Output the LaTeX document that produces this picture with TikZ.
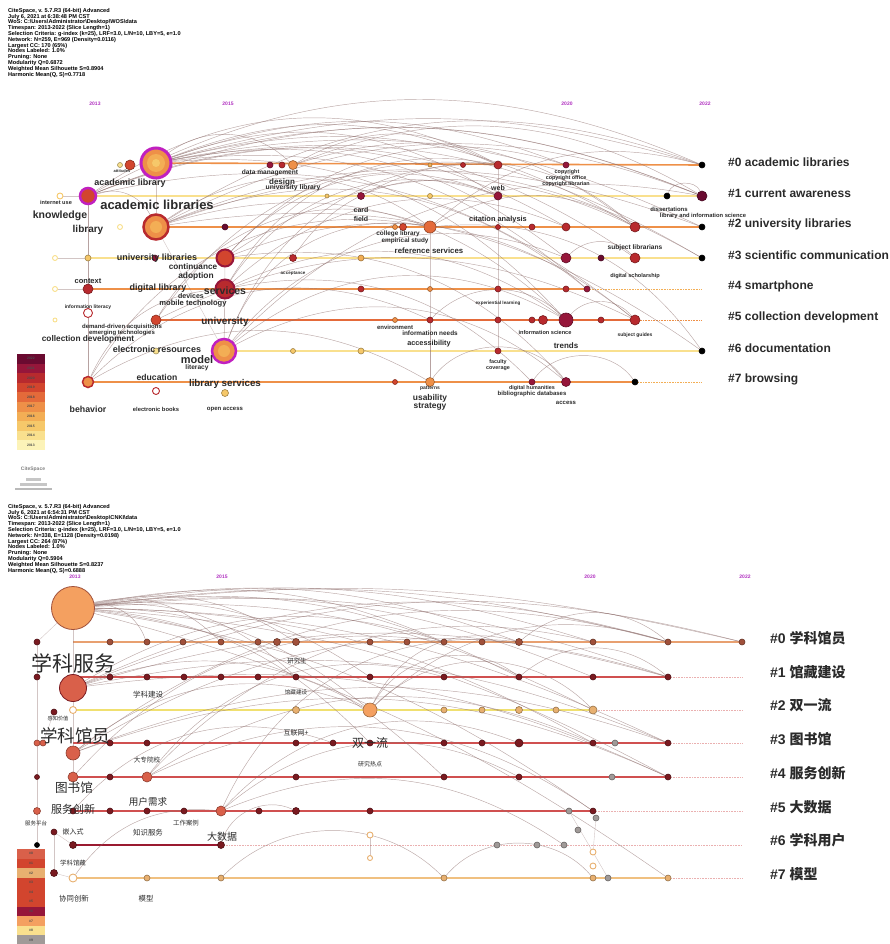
\documentclass[tikz,border=0pt]{standalone}
\usepackage{fontspec}
\setsansfont{Liberation Sans}
\newfontfamily\cjk{Noto Sans CJK SC}
\usetikzlibrary{positioning}

\definecolor{c13}{HTML}{FCF3B8}
\definecolor{c14}{HTML}{F9E08E}
\definecolor{c15}{HTML}{F6C86A}
\definecolor{c16}{HTML}{F3AE55}
\definecolor{c17}{HTML}{EE9048}
\definecolor{c18}{HTML}{E46A3A}
\definecolor{c19}{HTML}{D2452E}
\definecolor{c20}{HTML}{B82A2E}
\definecolor{c21}{HTML}{96163A}
\definecolor{c22}{HTML}{6A0A30}
\definecolor{mag}{HTML}{C020C0}
\definecolor{yr}{HTML}{B030C0}
\definecolor{link}{HTML}{8E6E6C}
\definecolor{txt}{HTML}{2A2A2A}
\definecolor{dk}{HTML}{7A1A20}
\definecolor{br}{HTML}{A0503A}
\definecolor{tn}{HTML}{E8B070}
\definecolor{og}{HTML}{F4A060}
\definecolor{gy}{HTML}{A09A98}
\definecolor{rd}{HTML}{D9604A}
\definecolor{k0}{HTML}{E8A070}
\definecolor{k1}{HTML}{D05050}
\definecolor{k2}{HTML}{F0E070}
\definecolor{k6}{HTML}{9A1A30}
\definecolor{k7}{HTML}{F0C080}

\pgfdeclarelayer{bg}
\pgfsetlayers{bg,main}

\begin{document}
\begin{tikzpicture}[x=1pt,y=-1pt,
  kw/.style={circle,inner sep=0pt,fill=#1,draw=#1!65!black,line width=0.6pt},
  hk/.style={circle,inner sep=0pt,fill=white,draw=#1,line width=0.9pt},
  cit/.style={draw=link,line width=0.45pt,opacity=0.6},
  lk/.style={draw=link,line width=0.4pt,opacity=0.4},
  tl/.style={draw=#1,line width=1.6pt},
  dl/.style={draw=#1,densely dotted,line width=0.6pt},
  lb/.style={font=\sffamily\bfseries\fontsize{#1}{#1}\selectfont,text=txt,inner sep=0pt},
  cl/.style={font=\cjk\fontsize{#1}{#1}\selectfont,text=txt,inner sep=0pt},
  cn/.style={font=\sffamily\bfseries\fontsize{12}{14}\selectfont,text=txt,anchor=west,inner sep=0pt},
  cc/.style={font=\sffamily\bfseries\fontsize{14}{16}\selectfont,text=txt,anchor=west,inner sep=0pt},
  yl/.style={font=\sffamily\bfseries\fontsize{5}{5}\selectfont,text=yr,inner sep=0pt},
  hd/.style={font=\sffamily\bfseries\fontsize{5.6}{5.8}\selectfont,align=left,anchor=north west,inner sep=0pt}]
\useasboundingbox (0,0) rectangle (890,944);

% ---------------- top panel ----------------
\node[hd] (head1) at (8,8) {CiteSpace, v. 5.7.R3 (64-bit) Advanced\\
July 6, 2021 at 6:38:48 PM CST\\
WoS: C:\textbackslash Users\textbackslash Administrator\textbackslash Desktop\textbackslash WOS\textbackslash data\\
Timespan: 2013-2022 (Slice Length=1)\\
Selection Criteria: g-index (k=25), LRF=3.0, L/N=10, LBY=5, e=1.0\\
Network: N=259, E=969 (Density=0.0116)\\
Largest CC: 170 (65\%)\\
Nodes Labeled: 1.0\%\\
Pruning: None\\
Modularity Q=0.6872\\
Weighted Mean Silhouette S=0.8904\\
Harmonic Mean(Q, S)=0.7718};
\foreach \x/\yy [count=\i] in {95/2013,228/2015,567/2020,705/2022}
  \node[yl] (ty\i) at (\x,104) {\yy};

% nodes per cluster row
\node[kw=c17,draw=mag,line width=3pt,minimum size=30pt] (t0big) at (156,163) {};
\fill[c16] (t0big.center) circle (9); \fill[c15] (t0big.center) circle (4);
\foreach \x/\dm/\col/\nm in {120/5/c14/a,130/10/c19/b,270/6/c21/c,282/6/c20/d,293/9/c17/e,430/4/c16/f,463/5/c20/g,498/8/c20/h,566/6/c21/i,702/6/black/j}
  \node[kw=\col,minimum size=\dm*1pt] (t0\nm) at (\x,165) {};
\node[kw=c19,draw=mag,line width=2.5pt,minimum size=16pt] (t1big) at (88,196) {};
\foreach \x/\dm/\col/\nm in {327/4/c15/b,361/7/c21/c,430/5/c15/d,498/8/c21/e,667/6/black/f,702/10/c22/g}
  \node[kw=\col,minimum size=\dm*1pt] (t1\nm) at (\x,196) {};
\node[hk=c15,minimum size=6pt] (t1a) at (60,196) {};
\node[kw=c17,draw=c20,line width=2.5pt,minimum size=25pt] (t2big) at (156,227) {};
\fill[c16] (t2big.center) circle (6);
\foreach \x/\dm/\col/\nm in {225/6/c22/b,395/5/c17/c,403/7/c19/d,430/12/c18/e,498/5/c20/f,532/6/c20/g,566/8/c20/h,635/10/c20/i,702/6/black/j}
  \node[kw=\col,minimum size=\dm*1pt] (t2\nm) at (\x,227) {};
\node[hk=c14,minimum size=5pt] (t2a) at (120,227) {};
\node[kw=c19,draw=c21,line width=2pt,minimum size=17pt] (t3big) at (225,258) {};
\foreach \x/\dm/\col/\nm in {88/6/c15/b,155/6/c21/c,293/7/c20/d,361/6/c16/e,566/10/c21/f,601/6/c22/g,635/10/c20/h,702/6/black/i}
  \node[kw=\col,minimum size=\dm*1pt] (t3\nm) at (\x,258) {};
\node[hk=c14,minimum size=5pt] (t3a) at (55,258) {};
\node[kw=c20,draw=c21,line width=2pt,minimum size=19pt] (t4big) at (225,289) {};
\foreach \x/\dm/\col/\nm in {88/10/c20/b,361/6/c20/c,430/5/c17/d,498/6/c20/e,566/6/c20/f,587/6/c21/g}
  \node[kw=\col,minimum size=\dm*1pt] (t4\nm) at (\x,289) {};
\node[hk=c14,minimum size=5pt] (t4a) at (55,289) {};
\foreach \x/\dm/\col/\nm in {156/10/c19/a,395/5/c17/b,430/6/c20/c,498/6/c20/d,532/6/c20/e,543/9/c20/f,566/14/c21/g,601/6/c20/h,635/10/c20/i}
  \node[kw=\col,minimum size=\dm*1pt] (t5\nm) at (\x,320) {};
\node[hk=c20,minimum size=9pt] (t5x) at (88,313) {};
\node[hk=c14,minimum size=4pt] (t5y) at (55,320) {};
\node[kw=c17,draw=mag,line width=2.5pt,minimum size=24pt] (t6big) at (224,351) {};
\fill[c16] (t6big.center) circle (6);
\foreach \x/\dm/\col/\nm in {156/6/c14/a,293/5/c15/b,361/6/c15/c,498/6/c20/d,702/6/black/e}
  \node[kw=\col,minimum size=\dm*1pt] (t6\nm) at (\x,351) {};
\node[kw=c17,draw=c20,line width=1.5pt,minimum size=11pt] (t7a) at (88,382) {};
\foreach \x/\dm/\col/\nm in {395/5/c19/b,430/9/c17/c,532/6/c21/d,566/9/c21/e,635/6/black/f}
  \node[kw=\col,minimum size=\dm*1pt] (t7\nm) at (\x,382) {};
\node[hk=c20,minimum size=7pt] (t7x) at (156,391) {};
\node[kw=c15,minimum size=7pt] (t7y) at (225,393) {};
\coordinate (t4end) at (702,289);
\coordinate (t5end) at (702,320);
\coordinate (t7end) at (702,382);

% cluster names
\foreach \yy/\tx [count=\i] in {162/academic libraries,193/current awareness,224/university libraries,255/scientific communication,286/smartphone,317/collection development,348/documentation,379/browsing}
  {\pgfmathtruncatemacro\k{\i-1}
   \node[cn] (tc\i) at (728,\yy) {\#\k\ \tx};}

% keyword labels
\foreach \x/\y/\fs/\tx [count=\i] in {
  130/183/9/academic library,157/205/13/academic libraries,60/216/10.5/knowledge,88/230/10/library,
  157/258/9/university libraries,193/267/8.2/continuance,196/276/8.4/adoption,88/281/7.5/context,
  158/288/9/digital library,225/291/10.5/services,191/296/7/devices,193/304/7.6/mobile technology,
  88/307/5/information literacy,225/322/10/university,122/327/6/demand-driven acquisitions,
  122/333/6/emerging technologies,88/339/8.3/collection development,157/349/9/electronic resources,
  197/360/11/model,197/368/6.6/literacy,157/377/8.6/education,225/384/9.8/library services,
  88/409/8.8/behavior,156/409/5.8/electronic books,225/409/6/open access,270/173/6.6/data management,
  282/182/8/design,293/188/6.8/university library,361/210/7/card,361/219/7/field,
  398/234/6.4/college library,405/241/6.4/empirical study,429/251/7.8/reference services,
  56/202/5.6/internet use,122/171/4/attitudes,293/273/4.5/acceptance,395/327/6/environment,
  430/333/6.4/information needs,429/344/7.3/accessibility,430/388/5/patterns,430/398/8.4/usability,
  430/407/8.4/strategy,498/188/7/web,567/172/5.4/copyright,566/178/5.4/copyright office,
  566/184/5.4/copyright librarian,498/220/7.4/citation analysis,635/248/6.6/subject librarians,
  635/276/5.6/digital scholarship,669/209/6/dissertations,703/216/5.8/library and information science,
  545/332/5.6/information science,635/335/5/subject guides,566/346/8/trends,498/362/5.4/faculty,
  498/369/5.4/coverage,532/388/5.4/digital humanities,532/394/6/bibliographic databases,
  566/403/6/access,498/303/4.6/experiential learning}
  \node[lb=\fs] (tl\i) at (\x,\y) {\tx};

% year legend
\foreach \col [count=\i] in {c22,c21,c20,c19,c18,c17,c16,c15,c14,c13}
  {\pgfmathtruncatemacro\yy{2023-\i}
   \fill[\col] (17,{344.4+\i*9.6}) rectangle ++(28,9.6);
   \node[lb=3.4,text=black!70] (tg\i) at (31,{349.2+\i*9.6}) {\yy};}

\begin{pgfonlayer}{bg}
\draw[tl=c17] (t0big.center) -- (t0j.center);
\draw[tl=c14] (t1big.center) -- (t1g.center);
\draw[tl=c17] (t2big.center) -- (t2j.center);
\draw[tl=c14] (t3b.center) -- (t3i.center);
\draw[tl=c17] (t4b.center) -- (t4g.center);
\draw[dl=c16] (t4g.center) -- (t4end);
\draw[tl=c18] (t5a.center) -- (t5i.center);
\draw[dl=c17] (t5i.center) -- (t5end);
\draw[tl=c14] (t6big.center) -- (t6e.center);
\draw[tl=c17] (t7a.center) -- (t7f.center);
\draw[dl=c16] (t7f.center) -- (t7end);
\foreach \p/\q/\bd in {t0big/t0h/22,t0big/t0j/16,t0big/t1g/18,t0big/t0i/20,t0big/t2i/22,t0big/t1e/26,
  t0big/t3f/24,t0big/t5g/26,t0big/t3i/20,t0big/t2j/18,t0big/t0e/40,t0big/t4g/24,
  t1big/t0j/26,t1big/t1g/22,t1big/t2h/26,t1big/t0h/30,t1big/t3h/28,t1big/t5i/26,t1big/t2big/40,
  t2big/t0j/26,t2big/t1g/24,t2big/t2j/20,t2big/t5g/30,t2big/t4g/30,t2big/t6e/22,t2big/t3i/26,t2big/t2e/35,
  t3big/t0i/32,t3big/t2i/30,t3big/t5i/30,t3big/t7e/28,t3big/t1e/35,
  t4big/t2h/32,t4big/t5g/30,t4big/t1e/38,t4big/t7d/28,t4big/t0h/35,
  t6big/t0h/36,t6big/t5g/34,t6big/t1g/28,t6big/t7e/34,t6big/t3f/36,t6big/t2e/40,
  t7a/t4big/30,t7a/t5c/35,t7a/t2e/35,t7a/t7c/30,t5a/t2e/40,t5a/t5i/26,t5a/t0h/30,
  t1f/t1g/70,t7c/t7e/55,t5g/t5i/50,t3f/t3h/45,t0e/t0h/30,t2e/t2i/30,t7d/t7f/55,t5c/t5g/45,
  t2e/t0j/28,t2e/t6e/30,t0e/t2i/28,t0e/t1g/26,t3d/t1e/40,t1c/t2i/35}
  \draw[cit] (\p) to[bend left=\bd] (\q);
\foreach \p/\q in {t1big/t7a,t1e/t6d,t0h/t1e,t2big/t6big,t1big/t4b,t3big/t6big,t7a/t5x,t0big/t2big,
  t1a/t1big,t3a/t3b,t4a/t4b,t4big/t6big,t7c/t5c,t2e/t7c}
  \draw[lk] (\p) -- (\q);
\end{pgfonlayer}

% ---------------- bottom panel ----------------
\node[font=\sffamily\bfseries\fontsize{5}{5}\selectfont,text=gray] (logo) at (33,469) {CiteSpace};
\fill[gray!55] (15,488) rectangle (52,490);
\fill[gray!45] (20,483) rectangle (47,486);
\fill[gray!45] (26,478) rectangle (41,481);
\node[hd] (head2) at (8,504) {CiteSpace, v. 5.7.R3 (64-bit) Advanced\\
July 6, 2021 at 6:54:31 PM CST\\
WoS: C:\textbackslash Users\textbackslash Administrator\textbackslash Desktop\textbackslash CNKI\textbackslash data\\
Timespan: 2013-2022 (Slice Length=1)\\
Selection Criteria: g-index (k=25), LRF=3.0, L/N=10, LBY=5, e=1.0\\
Network: N=338, E=1128 (Density=0.0198)\\
Largest CC: 264 (87\%)\\
Nodes Labeled: 1.0\%\\
Pruning: None\\
Modularity Q=0.5904\\
Weighted Mean Silhouette S=0.8237\\
Harmonic Mean(Q, S)=0.6888};
\foreach \x/\yy [count=\i] in {75/2013,222/2015,590/2020,745/2022}
  \node[yl] (by\i) at (\x,577) {\yy};

\node[kw=og,draw=br,line width=0.8pt,minimum size=43pt] (bbig0) at (73,608) {};
\foreach \x/\dm/\col/\nm in {37/6/dk/a,110/6/br/b,147/6/br/c,183/6/br/d,221/6/br/e,258/6/br/f,277/7/br/g,296/7/br/h,370/6/br/i,407/6/br/j,444/6/br/k,482/6/br/l,519/7/br/m,593/6/br/n,668/6/br/o,742/6/br/p}
  \node[kw=\col,minimum size=\dm*1pt] (b0\nm) at (\x,642) {};
\node[kw=rd,draw=dk,line width=0.8pt,minimum size=27pt] (bbig1) at (73,688) {};
\foreach \x/\dm/\col/\nm in {37/6/dk/a,110/6/dk/b,147/6/dk/c,184/6/dk/d,221/6/dk/e,258/6/dk/f,296/6/dk/g,370/6/dk/h,444/6/dk/i,519/6/dk/j,593/6/dk/k,668/6/dk/l}
  \node[kw=\col,minimum size=\dm*1pt] (b1\nm) at (\x,677) {};
\node[kw=dk,minimum size=6pt] (b2a) at (54,712) {};
\node[hk=tn,minimum size=7pt] (b2b) at (73,710) {};
\foreach \x/\dm/\col/\nm in {296/7/tn/c,370/14/og/d,444/6/tn/e,482/6/tn/f,519/7/tn/g,556/6/tn/h,593/8/tn/i}
  \node[kw=\col,minimum size=\dm*1pt] (b2\nm) at (\x,710) {};
\node[kw=rd,minimum size=14pt] (b3x) at (73,753) {};
\foreach \x/\dm/\col/\nm in {37/6/rd/a,110/6/dk/b,147/6/dk/c,296/6/dk/d,333/6/dk/e,370/6/dk/f,444/6/dk/g,482/6/dk/h,519/8/dk/i,593/6/dk/j,615/6/gy/k,668/6/dk/l}
  \node[kw=\col,minimum size=\dm*1pt] (b3\nm) at (\x,743) {};
\node[kw=rd,minimum size=6pt] (b3a2) at (43,743) {};
\foreach \x/\dm/\col/\nm in {37/5/dk/a,73/10/rd/b,110/6/dk/c,147/10/rd/d,296/6/dk/e,444/6/dk/f,519/6/dk/g,612/6/gy/h,668/6/dk/i}
  \node[kw=\col,minimum size=\dm*1pt] (b4\nm) at (\x,777) {};
\foreach \x/\dm/\col/\nm in {37/7/rd/a,73/6/dk/b,110/6/dk/c,147/6/dk/d,184/6/dk/e,221/10/rd/f,259/6/dk/g,296/7/dk/h,370/6/dk/i,569/6/gy/j,593/6/dk/k}
  \node[kw=\col,minimum size=\dm*1pt] (b5\nm) at (\x,811) {};
\node[kw=gy,minimum size=6pt] (b5x) at (596,818) {};
\node[kw=gy,minimum size=6pt] (b5y) at (578,830) {};
\node[kw=black,minimum size=5pt] (b6a) at (37,845) {};
\node[kw=dk,minimum size=6pt] (b6b) at (54,832) {};
\foreach \x/\dm/\col/\nm in {73/7/dk/c,221/7/dk/d,497/6/gy/e,537/6/gy/f,564/6/gy/g}
  \node[kw=\col,minimum size=\dm*1pt] (b6\nm) at (\x,845) {};
\node[hk=tn,minimum size=6pt] (b6x) at (370,835) {};
\node[hk=tn,minimum size=6pt] (b6y) at (593,852) {};
\node[kw=dk,minimum size=7pt] (b7a) at (54,873) {};
\node[hk=tn,minimum size=8pt] (b7b) at (73,878) {};
\foreach \x/\dm/\col/\nm in {147/6/tn/c,221/6/tn/d,444/6/tn/e,593/6/tn/f,608/6/gy/g,668/6/tn/h}
  \node[kw=\col,minimum size=\dm*1pt] (b7\nm) at (\x,878) {};
\node[hk=tn,minimum size=6pt] (b7x) at (593,866) {};
\node[hk=tn,minimum size=5pt] (b7y) at (370,858) {};
\coordinate (b0s) at (73,642);
\coordinate (b1s) at (73,677);
\coordinate (b3s) at (73,743);
\coordinate (b1end) at (742,677);
\coordinate (b2end) at (742,710);
\coordinate (b3end) at (742,743);
\coordinate (b4end) at (742,777);
\coordinate (b5end) at (742,811);
\coordinate (b6end) at (742,845);
\coordinate (b7end) at (742,878);

% cluster names
\foreach \yy/\tx [count=\i] in {638/学科馆员,672/馆藏建设,705/双一流,739/图书馆,773/服务创新,807/大数据,840/学科用户,874/模型}
  {\pgfmathtruncatemacro\k{\i-1}
   \node[cc] (bc\i) at (770,\yy) {\#\k\ {\cjk\tx}};}

% keyword labels
\foreach \x/\y/\fs/\tx [count=\i] in {
  73/663/21/学科服务,75/736/17.5/学科馆员,58/719/5.2/感知价值,148/695/7.5/学科建设,147/760/6.6/大专院校,
  296/733/7/互联网+,370/743/12/双一流,370/764/6/研究热点,297/661/6.4/研究生,296/692/5.6/馆藏建设,
  74/788/12.6/图书馆,73/809/11/服务创新,148/802/9.6/用户需求,36/823/5.5/服务平台,73/832/7/嵌入式,
  148/833/7.4/知识服务,186/823/6.4/工作案例,73/863/6.4/学科馆藏,74/899/7.4/协同创新,146/899/7.4/模型,
  222/837/10/大数据}
  \node[cl=\fs] (bl\i) at (\x,\y) {\tx};

% cluster legend
\foreach \col [count=\i] in {rd,c19,tn,c19,c19,c19,c21,og,c14,gy}
  {\pgfmathtruncatemacro\k{\i-1}
   \fill[\col] (17,{839.4+\i*9.6}) rectangle ++(28,9.6);
   \node[lb=3.4,text=black!70] (bg\i) at (31,{844.2+\i*9.6}) {\#\k};}

\begin{pgfonlayer}{bg}
\draw[tl=k0] (b0s) -- (b0p.center);
\draw[tl=k1] (b1s) -- (b1l.center);
\draw[dl=k1!45] (b1l.center) -- (b1end);
\draw[tl=k2] (b2b.center) -- (b2i.center);
\draw[dl=k1!45] (b2i.center) -- (b2end);
\draw[tl=k1] (b3s) -- (b3l.center);
\draw[dl=k1!45] (b3l.center) -- (b3end);
\draw[tl=k1] (b4b.center) -- (b4i.center);
\draw[dl=k1!45] (b4i.center) -- (b4end);
\draw[tl=k1] (b5b.center) -- (b5k.center);
\draw[dl=k1!45] (b5k.center) -- (b5end);
\draw[tl=k6,line width=2pt] (b6c.center) -- (b6d.center);
\draw[dl=k1!45] (b6d.center) -- (b6end);
\draw[tl=k7] (b7b.center) -- (b7h.center);
\draw[dl=k1!45] (b7h.center) -- (b7end);
\foreach \p/\q/\bd in {bbig0/b0p/10,bbig0/b0o/11,bbig0/b1l/12,bbig0/b0n/13,bbig0/b3l/12,bbig0/b4i/12,
  bbig0/b0m/15,bbig0/b3j/14,bbig0/b1k/14,bbig0/b2i/15,bbig0/b0k/17,bbig0/b1j/17,bbig0/b7h/10,
  bbig0/b5k/13,bbig0/b0h/22,bbig0/b0e/28,bbig0/b1h/20,bbig0/b2d/19,bbig0/b3f/20,bbig0/b4f/18,
  bbig0/b1g/24,bbig0/b0c/35,bbig1/b0p/18,bbig1/b1l/16,bbig1/b3l/17,bbig1/b4i/16,bbig1/b0o/20,
  bbig1/b2d/24,bbig1/b0k/24,b2d/b1j/50,b2d/b0m/40,b2d/b2i/45,b2d/b0o/30,b3x/b0o/26,b3x/b4i/22,
  b3x/b3l/20,b3x/b1l/24,b3x/b2d/30,b4d/b0n/30,b4d/b3j/28,b4d/b5k/30,b4d/b1i/34,b5f/b0m/36,
  b5f/b3i/34,b5f/b6g/28,b5f/b4g/34,b7e/b7f/50,b0m/b0o/40,b5b/b3e/34,b4b/b0k/28,b6d/b5h/50,
  b7b/b5f/30,b7d/b7e/45,b1j/b1l/40}
  \draw[cit] (\p) to[bend left=\bd] (\q);
\foreach \p/\q in {bbig0/b0a,b0a/b1a,b1a/b3a,b3a/b4a,b4a/b5a,b5a/b6a,bbig0/bbig1,bbig1/b3x,b6b/b7a,
  b3x/b4b,b2a/b3a2,b6b/b6c,b7a/b7b,b6x/b7y,b5j/b7g,b5x/b6y}
  \draw[lk] (\p) -- (\q);
\end{pgfonlayer}
\end{tikzpicture}
\end{document}
